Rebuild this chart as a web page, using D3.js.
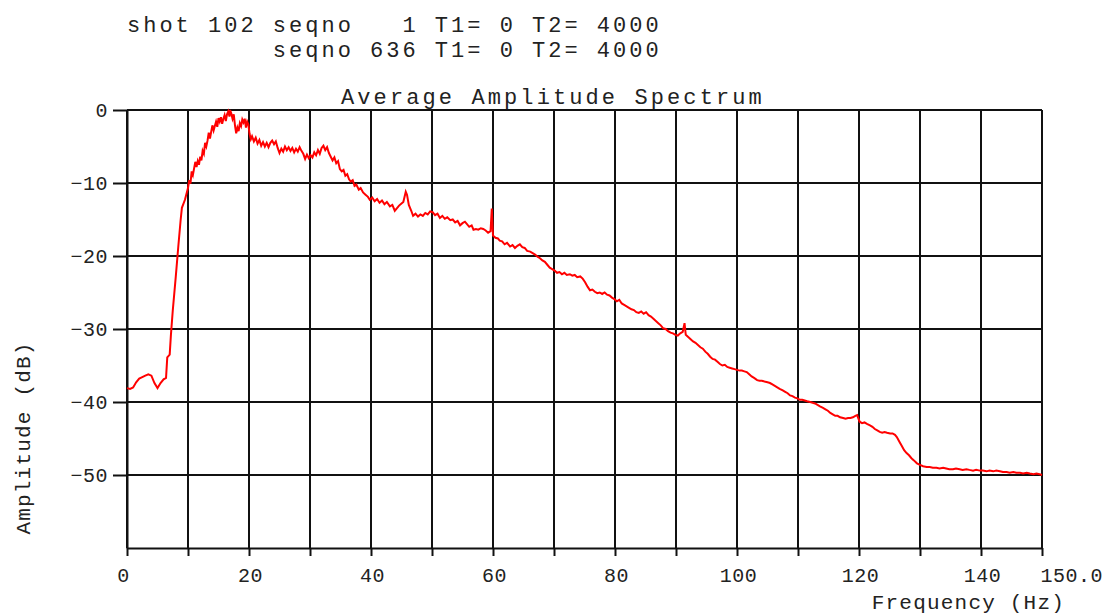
<!DOCTYPE html>
<meta charset="utf-8">
<title>Average Amplitude Spectrum</title>
<script src="https://d3js.org/d3.v7.min.js"></script>
<style>
  body { margin: 0; background: #fff; }
  svg text { font-family: "Liberation Mono", "DejaVu Sans Mono", monospace; fill: #222; }
  .axis path, .axis line { stroke: #111; }
</style>
<body>
<div id="chart"></div>
<script>
// header lines printed above the plot
var headerLines = ["shot 102 seqno   1 T1= 0 T2= 4000",
                   "         seqno 636 T1= 0 T2= 4000"];
var chartTitle = "Average Amplitude Spectrum";
var xTitle = "Frequency (Hz)";
var yTitle = "Amplitude (dB)";

var xTicks = [0, 10, 20, 30, 40, 50, 60, 70, 80, 90, 100, 110, 120, 130, 140, 150];
var xTickLabels = ["0", "", "20", "", "40", "", "60", "", "80", "", "100", "", "120", "", "140", "150.0"];
var yTicks = [0, -10, -20, -30, -40, -50];

// [frequency Hz, amplitude dB]
var spectrum = [
  [0,-38.1],[0.5,-38.2],[1,-38.0],[1.5,-37.3],[2,-36.8],[2.5,-36.6],[3,-36.4],[3.5,-36.2],[4,-36.4],[4.5,-37.4],
  [5,-38.1],[5.5,-37.4],[6,-36.9],[6.4,-36.7],[6.6,-33.9],[7,-33.5],[7.2,-30.8],[7.5,-27.5],[8,-22.8],[8.4,-18.8],
  [8.8,-15.0],[9,-13.4],[9.5,-12.3],[10,-10.7],[10.2,-9.6],[10.4,-10.1],[10.6,-8.4],[10.8,-8.9],[11,-8.0],[11.2,-7.1],
  [11.4,-7.8],[11.6,-7.0],[11.8,-7.5],[12,-6.4],[12.2,-6.9],[12.4,-5.6],[12.6,-6.0],[12.8,-4.5],[13,-5.0],[13.2,-4.2],
  [13.4,-3.1],[13.6,-3.9],[13.8,-3.0],[14,-2.1],[14.2,-2.8],[14.4,-2.2],[14.6,-1.6],[14.8,-2.3],[15,-1.1],[15.2,-1.6],
  [15.4,-1.0],[15.6,-1.9],[15.8,-1.2],[16,-0.7],[16.2,-1.5],[16.4,-0.6],[16.6,-0.2],[16.8,-0.9],[16.9,0.0],[17.1,-0.5],
  [17.3,-1.2],[17.5,-0.6],[17.7,-2.1],[17.9,-3.2],[18.1,-2.4],[18.3,-2.9],[18.5,-1.8],[18.7,-2.2],[18.9,-1.3],[19.1,-1.7],
  [19.3,-1.2],[19.5,-2.4],[19.7,-1.6],[19.9,-2.0],[20.1,-3.3],[20.3,-4.0],[20.5,-3.6],[20.8,-4.3],[21.1,-3.8],[21.4,-4.6],
  [21.7,-4.1],[22,-4.9],[22.3,-4.4],[22.6,-5.0],[22.9,-4.5],[23.2,-5.1],[23.5,-4.5],[23.8,-4.2],[24.1,-4.7],[24.4,-4.3],
  [24.7,-5.2],[25,-5.9],[25.3,-5.3],[25.6,-5.7],[25.9,-5.0],[26.2,-5.5],[26.5,-5.1],[26.8,-5.6],[27.1,-5.2],[27.4,-5.8],
  [27.7,-5.3],[28,-5.7],[28.3,-5.1],[28.6,-5.6],[28.9,-6.0],[29.2,-6.7],[29.5,-6.1],[29.8,-6.6],[30.1,-6.2],[30.4,-6.5],
  [30.7,-5.8],[31,-6.2],[31.3,-5.5],[31.6,-6.0],[31.9,-5.2],[32.2,-4.9],[32.5,-5.5],[32.8,-5.1],[33.1,-5.9],[33.4,-6.4],
  [33.7,-6.9],[34,-6.5],[34.3,-7.3],[34.6,-7.0],[34.9,-8.1],[35.2,-8.4],[35.5,-8.2],[35.8,-9.0],[36.1,-8.8],[36.4,-9.5],
  [36.7,-9.8],[37,-9.6],[37.3,-10.4],[37.6,-10.2],[38,-10.9],[38.3,-10.7],[38.7,-11.3],[39.1,-11.6],[39.5,-11.9],[39.8,-12.3],
  [40.2,-12.0],[40.6,-12.5],[41,-12.2],[41.4,-12.7],[41.8,-12.4],[42.2,-12.9],[42.6,-12.6],[43.1,-13.2],[43.5,-13.0],[43.9,-13.8],
  [44.2,-13.5],[44.6,-13.1],[45,-12.8],[45.3,-12.6],[45.7,-11.2],[45.9,-11.6],[46.2,-13.0],[46.6,-13.8],[46.9,-14.5],[47.3,-14.2],
  [47.7,-14.6],[48.1,-14.3],[48.5,-14.5],[48.9,-14.1],[49.3,-14.3],[49.7,-13.9],[50.1,-14.0],[50.5,-14.4],[50.9,-14.2],[51.3,-14.8],
  [51.7,-14.5],[52.1,-14.9],[52.5,-14.7],[53,-15.1],[53.4,-15.0],[53.8,-15.4],[54.2,-15.2],[54.6,-15.8],[55,-15.5],[55.4,-15.3],
  [55.7,-15.6],[56.1,-16.0],[56.5,-15.8],[56.8,-16.4],[57.2,-16.3],[57.6,-16.4],[58,-16.2],[58.4,-16.3],[58.8,-16.5],[59.2,-16.8],
  [59.6,-16.6],[59.8,-13.5],[60,-17.2],[60.4,-17.5],[60.8,-17.6],[61.1,-17.9],[61.5,-18.0],[61.9,-18.4],[62.3,-18.2],[62.8,-18.7],
  [63.2,-18.5],[63.6,-18.9],[64,-18.6],[64.4,-18.4],[64.8,-18.8],[65.2,-18.9],[65.6,-19.3],[66.1,-19.4],[66.5,-19.6],[66.9,-19.8],
  [67.3,-20.1],[67.7,-20.3],[68.1,-20.6],[68.5,-20.8],[68.9,-21.2],[69.3,-21.6],[69.7,-21.8],[70.1,-22.0],[70.5,-22.3],[70.9,-22.2],
  [71.3,-22.5],[71.7,-22.3],[72.1,-22.6],[72.6,-22.5],[73,-22.7],[73.4,-22.6],[73.8,-22.9],[74.3,-22.8],[74.7,-23.1],[75.1,-23.6],
  [75.5,-24.2],[75.9,-24.7],[76.3,-24.6],[76.7,-24.9],[77.1,-25.1],[77.5,-25.0],[77.9,-25.2],[78.3,-25.0],[78.7,-25.3],[79.1,-25.4],
  [79.5,-25.7],[79.9,-25.9],[80.3,-26.2],[80.7,-26.0],[81.1,-26.5],[81.5,-26.7],[81.9,-26.9],[82.3,-27.1],[82.7,-27.3],[83.1,-27.4],
  [83.5,-27.7],[83.9,-27.8],[84.3,-27.6],[84.7,-27.9],[85.1,-27.7],[85.5,-28.1],[85.9,-28.3],[86.3,-28.6],[86.7,-28.9],[87.1,-29.2],
  [87.5,-29.5],[87.9,-29.9],[88.3,-30.0],[88.7,-30.3],[89.1,-30.5],[89.5,-30.6],[89.9,-30.8],[90.3,-30.9],[90.7,-30.6],[91.1,-30.4],
  [91.4,-29.2],[91.6,-30.8],[92,-31.1],[92.4,-31.4],[92.8,-31.7],[93.2,-31.9],[93.6,-32.2],[94,-32.5],[94.4,-32.7],[94.8,-33.1],
  [95.2,-33.4],[95.6,-33.8],[96,-34.1],[96.4,-34.2],[96.8,-34.5],[97.2,-34.8],[97.6,-35.0],[98,-34.9],[98.4,-35.2],[98.8,-35.3],
  [99.2,-35.4],[99.6,-35.5],[100,-35.6],[100.4,-35.7],[100.8,-35.7],[101.2,-35.8],[101.6,-35.9],[102,-36.2],[102.4,-36.5],[102.8,-36.7],
  [103.3,-37.0],[103.7,-37.1],[104.1,-37.1],[104.5,-37.2],[105,-37.3],[105.4,-37.4],[105.8,-37.6],[106.2,-37.8],[106.6,-38.0],[107,-38.2],
  [107.5,-38.4],[107.9,-38.6],[108.3,-38.8],[108.7,-39.1],[109.1,-39.2],[109.5,-39.4],[109.9,-39.5],[110.3,-39.7],[110.7,-39.7],[111.1,-39.8],
  [111.5,-39.9],[112,-40.0],[112.4,-40.1],[112.8,-40.2],[113.2,-40.4],[113.6,-40.6],[114.1,-40.8],[114.5,-41.0],[114.9,-41.2],[115.3,-41.5],
  [115.7,-41.7],[116.1,-41.9],[116.5,-41.9],[116.9,-42.1],[117.4,-42.2],[117.8,-42.3],[118.2,-42.2],[118.6,-42.2],[119,-42.1],[119.4,-41.9],
  [119.7,-41.8],[120.1,-42.7],[120.5,-42.9],[120.9,-42.8],[121.3,-43.0],[121.8,-43.2],[122.2,-43.4],[122.6,-43.7],[123,-43.9],[123.4,-44.1],
  [123.8,-44.2],[124.2,-44.1],[124.6,-44.2],[125.1,-44.3],[125.5,-44.3],[125.9,-44.5],[126.2,-44.8],[126.6,-45.4],[127,-46.0],[127.4,-46.6],
  [127.8,-47.0],[128.2,-47.3],[128.6,-47.7],[129,-48.0],[129.5,-48.4],[130,-48.6],[130.5,-48.8],[131.1,-48.9],[131.6,-48.9],[132.1,-49.0],
  [132.7,-49.0],[133.2,-49.1],[133.8,-49.0],[134.3,-49.1],[134.8,-49.2],[135.4,-49.2],[135.9,-49.1],[136.5,-49.2],[137,-49.3],[137.6,-49.2],
  [138.1,-49.3],[138.7,-49.4],[139.2,-49.3],[139.8,-49.4],[140.3,-49.4],[140.9,-49.5],[141.4,-49.4],[142,-49.5],[142.5,-49.4],[143.1,-49.5],
  [143.6,-49.6],[144.2,-49.6],[144.7,-49.7],[145.3,-49.6],[145.8,-49.7],[146.4,-49.7],[146.9,-49.8],[147.5,-49.7],[148,-49.8],[148.6,-49.9],
  [149.1,-49.8],[149.6,-49.9],[150,-50.0]
];

var W = 1111, H = 614;
var margin = {top: 110, right: 69, bottom: 66, left: 127},
    width = W - margin.left - margin.right,
    height = H - margin.top - margin.bottom;

var svg = d3.select("#chart")
  .append("svg")
    .attr("width", W)
    .attr("height", H);

var g = svg.append("g")
    .attr("transform", "translate(" + margin.left + "," + margin.top + ")");

var x = d3.scaleLinear().domain([0, 150]).range([0, width]);
var y = d3.scaleLinear().domain([-60, 0]).range([height, 0]);

// grid
g.selectAll(".vgrid")
  .data(xTicks)
  .enter()
  .append("line")
    .attr("x1", function(d) { return x(d); })
    .attr("x2", function(d) { return x(d); })
    .attr("y1", 0)
    .attr("y2", height)
    .attr("stroke", "#111")
    .attr("stroke-width", 2);

g.selectAll(".hgrid")
  .data(yTicks)
  .enter()
  .append("line")
    .attr("x1", 0)
    .attr("x2", width)
    .attr("y1", function(d) { return y(d); })
    .attr("y2", function(d) { return y(d); })
    .attr("stroke", "#111")
    .attr("stroke-width", 2);

// axes
var xAxis = g.append("g")
  .attr("class", "axis")
  .attr("transform", "translate(0," + height + ")")
  .call(d3.axisBottom(x)
    .tickValues(xTicks)
    .tickSize(8)
    .tickSizeOuter(0)
    .tickFormat(function(d, i) { return xTickLabels[i]; }));
xAxis.select(".domain").attr("stroke-width", 2);
xAxis.selectAll("line").attr("stroke-width", 2);
xAxis.selectAll("text")
  .attr("y", 34)
  .attr("dy", 0)
  .style("font-size", "20px")
  .style("letter-spacing", "0.5px")
  .attr("text-anchor", function(d) { return d === 150 ? "start" : "middle"; })
  .attr("dx", function(d) { return d === 150 ? -2 : (d === 0 ? -4 : 1); });

var yAxis = g.append("g")
  .attr("class", "axis")
  .call(d3.axisLeft(y)
    .tickValues(yTicks)
    .tickSize(14)
    .tickSizeOuter(0)
    .tickPadding(5));
yAxis.select(".domain").attr("stroke-width", 2);
yAxis.selectAll("line").attr("stroke-width", 2);
yAxis.selectAll("text")
  .style("font-size", "20px")
  .style("letter-spacing", "0.5px");

// spectrum trace
var line = d3.line()
  .x(function(d) { return x(d[0]); })
  .y(function(d) { return y(d[1]); });

g.append("path")
  .datum(spectrum)
  .attr("fill", "none")
  .attr("stroke", "#ff0000")
  .attr("stroke-width", 2)
  .attr("stroke-linejoin", "miter")
  .attr("d", line);

// titles
svg.selectAll(".hdr")
  .data(headerLines)
  .enter()
  .append("text")
    .attr("x", 127)
    .attr("y", function(d, i) { return 32 + i * 25; })
    .attr("xml:space", "preserve")
    .style("white-space", "pre")
    .style("font-size", "22px")
    .style("letter-spacing", "3.0px")
    .text(function(d) { return d; });

svg.append("text")
  .attr("x", 341)
  .attr("y", 104)
  .style("font-size", "22px")
  .style("letter-spacing", "3.1px")
  .text(chartTitle);

svg.append("text")
  .attr("x", 1065)
  .attr("y", 609)
  .attr("text-anchor", "end")
  .style("font-size", "21px")
  .style("letter-spacing", "1.2px")
  .text(xTitle);

svg.append("text")
  .attr("transform", "translate(30,438) rotate(-90)")
  .attr("text-anchor", "middle")
  .style("font-size", "21px")
  .style("letter-spacing", "1.2px")
  .text(yTitle);
</script>
</body>
